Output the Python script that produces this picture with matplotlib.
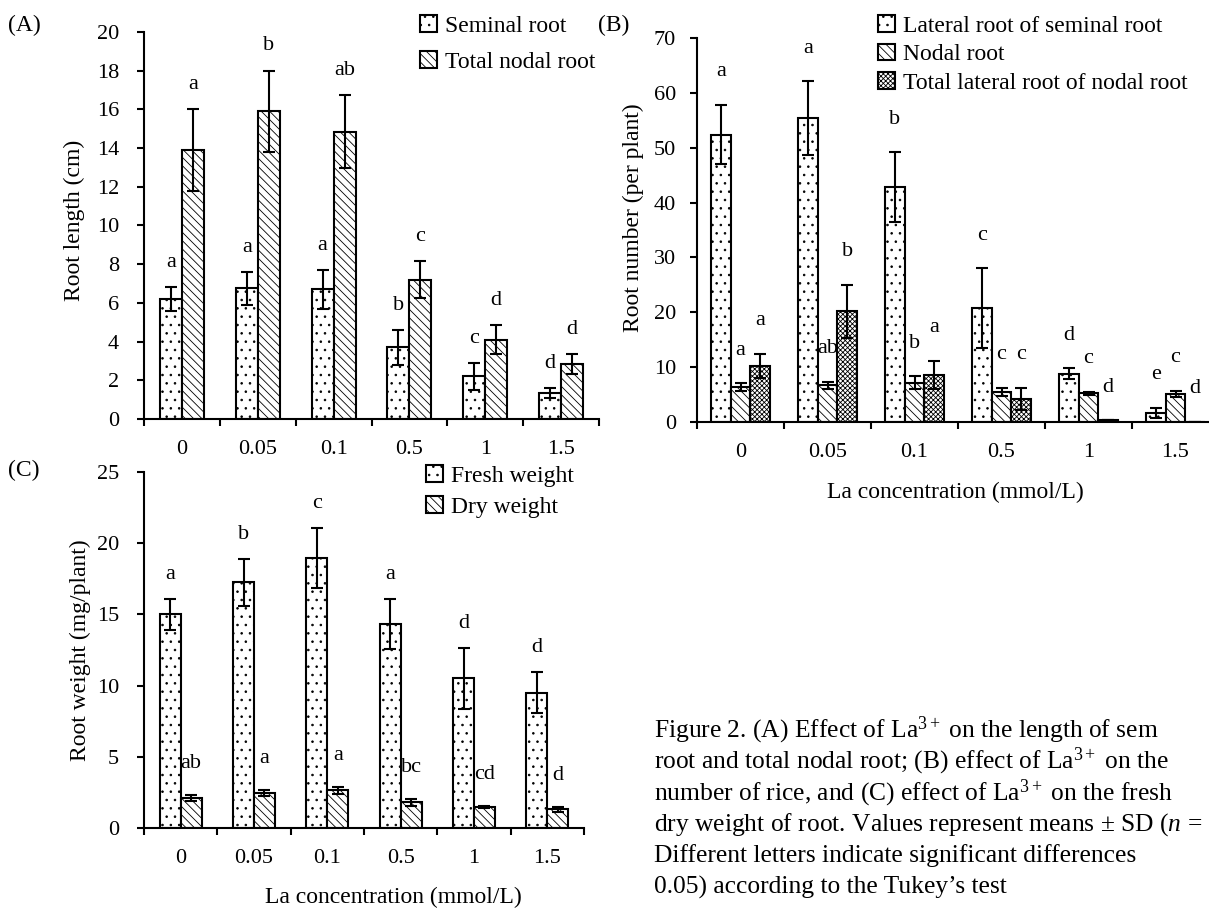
import numpy as np
import matplotlib.pyplot as plt

plt.rcParams['font.family'] = ['Liberation Serif', 'DejaVu Serif']
plt.rcParams['mathtext.fontset'] = 'custom'
plt.rcParams['mathtext.rm'] = 'Liberation Serif'
plt.rcParams['mathtext.it'] = 'Liberation Serif:italic'
plt.rcParams['hatch.linewidth'] = 0.6
plt.rcParams['hatch.color'] = 'black'

conc = ['0', '0.05', '0.1', '0.5', '1', '1.5']

# (A) root length (cm)
seminal_len = [6.2, 6.75, 6.7, 3.7, 2.2, 1.35]
seminal_len_sd = [0.6, 0.85, 1.0, 0.9, 0.7, 0.25]
nodal_len = [13.9, 15.9, 14.85, 7.2, 4.1, 2.85]
nodal_len_sd = [2.1, 2.1, 1.9, 0.95, 0.75, 0.5]
seminal_len_grp = ['a', 'a', 'a', 'b', 'c', 'd']
nodal_len_grp = ['a', 'b', 'ab', 'c', 'd', 'd']

# (B) root number (per plant)
lat_seminal = [52.4, 55.4, 42.8, 20.7, 8.8, 1.7]
lat_seminal_sd = [5.4, 6.7, 6.4, 7.3, 1.0, 0.9]
nodal_num = [6.4, 6.7, 7.2, 5.5, 5.2, 5.1]
nodal_num_sd = [0.7, 0.6, 1.1, 0.7, 0.3, 0.6]
lat_nodal = [10.2, 20.2, 8.6, 4.2, 0.3, 0.0]
lat_nodal_sd = [2.2, 4.8, 2.6, 2.0, 0.0, 0.0]
lat_seminal_grp = ['a', 'a', 'b', 'c', 'd', 'e']
nodal_num_grp = ['a', 'ab', 'b', 'c', 'c', 'c']
lat_nodal_grp = ['a', 'b', 'a', 'c', 'd', 'd']

# (C) root weight (mg/plant)
fresh_w = [15.0, 17.25, 18.95, 14.3, 10.5, 9.5]
fresh_w_sd = [1.07, 1.65, 2.1, 1.75, 2.14, 1.45]
dry_w = [2.1, 2.45, 2.65, 1.8, 1.5, 1.3]
dry_w_sd = [0.2, 0.23, 0.23, 0.23, 0.07, 0.18]
fresh_w_grp = ['a', 'b', 'c', 'a', 'd', 'd']
dry_w_grp = ['ab', 'a', 'a', 'bc', 'cd', 'd']

caption = [
    r'Figure 2. (A) Effect of La$^{3+}$ on the length of sem',
    r'root and total nodal root; (B) effect of La$^{3+}$ on the',
    r'number of rice, and (C) effect of La$^{3+}$ on the fresh',
    r'dry weight of root. Values represent means $\pm$ SD ($n$ =',
    'Different letters indicate significant differences',
    '0.05) according to the Tukey\u2019s test',
]

W, H = 1209, 911
fig = plt.figure(figsize=(W / 100, H / 100), dpi=100)


def px_axes(left, top, right, bottom):
    return fig.add_axes([left / W, 1 - bottom / H, (right - left) / W, (bottom - top) / H])


def style(ax, ymax, step, ypad):
    ax.set_xlim(0, len(conc))
    ax.set_ylim(0, ymax)
    ax.set_yticks(np.arange(0, ymax + 0.1, step))
    ax.set_xticks(np.arange(len(conc) + 1))
    ax.set_xticklabels([])
    ax.set_xticks(np.arange(len(conc)) + 0.5, minor=True)
    ax.set_xticklabels(conc, minor=True)
    for s in ['top', 'right']:
        ax.spines[s].set_visible(False)
    for s in ['left', 'bottom']:
        ax.spines[s].set_linewidth(1.5)
    ax.tick_params(which='major', direction='out', length=5, width=1.5, labelsize=16)
    ax.tick_params(axis='y', pad=ypad)
    ax.tick_params(axis='x', which='minor', length=0, pad=15, labelsize=16)


def bars(ax, series, sds, groups, hatches, labels, width, pads):
    n = len(series)
    x = np.arange(len(conc)) + 0.5
    for k in range(n):
        pos = x + (k - (n - 1) / 2) * width
        ax.bar(pos, series[k], width, color='white', edgecolor='black', linewidth=1.5,
               hatch=hatches[k], label=labels[k], zorder=2)
        ax.errorbar(pos, series[k], yerr=sds[k], fmt='none', ecolor='black',
                    elinewidth=1.5, capsize=4, capthick=1.5, zorder=3)
        for p, v, s, g in zip(pos, series[k], sds[k], groups[k]):
            ax.text(p, v + s + pads[k], g, ha='center', va='baseline', fontsize=16)


def legend(ax, x, y, spacing):
    ax.legend(loc='upper left', bbox_to_anchor=(x / W, 1 - y / H), bbox_transform=fig.transFigure,
              frameon=False, fontsize=17, handlelength=0.7, handleheight=0.7,
              handletextpad=0.35, labelspacing=spacing, borderpad=0, borderaxespad=0)


dots = '..'
lines = '\\\\\\\\'
mesh = 'xxxxxxx'

# (A)
axA = px_axes(144, 32, 599, 419)
style(axA, 20, 2, 13)
bars(axA, [seminal_len, nodal_len], [seminal_len_sd, nodal_len_sd],
     [seminal_len_grp, nodal_len_grp], [dots, lines],
     ['Seminal root', 'Total nodal root'], 0.29, [1.05, 1.05])
legend(axA, 420, 15, 0.62)
fig.text(74 / W, 1 - 220 / H, 'Root length (cm)', rotation=90, ha='center', va='center', fontsize=17)
fig.text(8 / W, 1 - 25 / H, '(A)', ha='left', va='center', fontsize=17)

# (B)
axB = px_axes(697, 38, 1219, 422)
style(axB, 70, 10, 10)
bars(axB, [lat_seminal, nodal_num, lat_nodal], [lat_seminal_sd, nodal_num_sd, lat_nodal_sd],
     [lat_seminal_grp, nodal_num_grp, lat_nodal_grp], [dots, lines, mesh],
     ['Lateral root of seminal root', 'Nodal root', 'Total lateral root of nodal root'],
     0.225, [5.2, 5.2, 5.2])
legend(axB, 878, 15, 0.3)
fig.text(633 / W, 1 - 218 / H, 'Root number (per plant)', rotation=90, ha='center', va='center', fontsize=17)
fig.text(598 / W, 1 - 25 / H, '(B)', ha='left', va='center', fontsize=17)
fig.text(955 / W, 1 - 492 / H, 'La concentration (mmol/L)', ha='center', va='center', fontsize=17)

# (C)
axC = px_axes(144, 472, 584, 828)
style(axC, 25, 5, 13)
bars(axC, [fresh_w, dry_w], [fresh_w_sd, dry_w_sd], [fresh_w_grp, dry_w_grp], [dots, lines],
     ['Fresh weight', 'Dry weight'], 0.286, [1.42, 1.9])
legend(axC, 426, 465, 0.4)
fig.text(80 / W, 1 - 650 / H, 'Root weight (mg/plant)', rotation=90, ha='center', va='center', fontsize=17)
fig.text(8 / W, 1 - 470 / H, '(C)', ha='left', va='center', fontsize=17)
fig.text(393 / W, 1 - 897 / H, 'La concentration (mmol/L)', ha='center', va='center', fontsize=17)

for i, line in enumerate(caption):
    fig.text(654 / W, 1 - (730 + 31.5 * i) / H, line, ha='left', va='center', fontsize=18.4)

fig.savefig('out.png', dpi=100)
